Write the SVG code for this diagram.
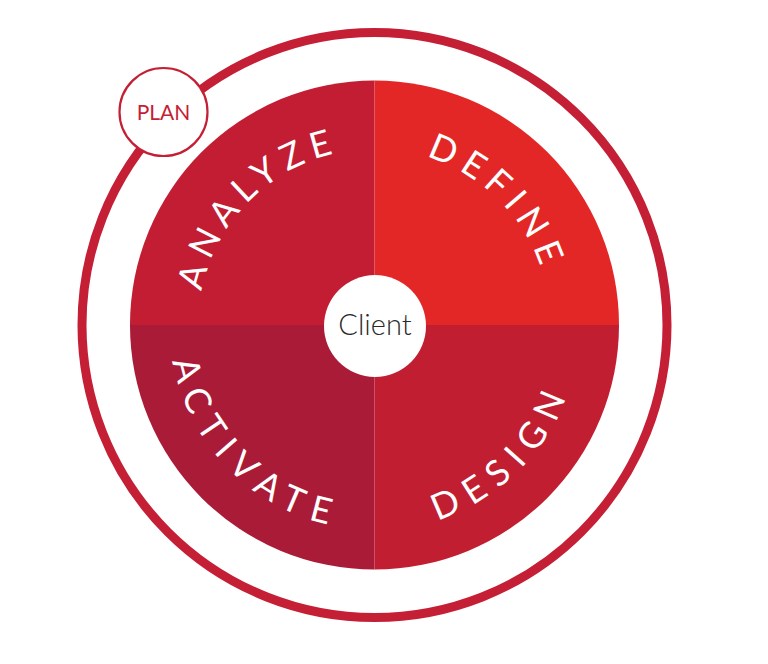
<svg xmlns="http://www.w3.org/2000/svg" width="768" height="664" viewBox="0 0 768 664">
<style>
.arc{font-family:Lato,"Open Sans","Liberation Sans",sans-serif;font-weight:400;font-size:36px;fill:#ffffff}
.top{letter-spacing:7.5px}
.bot{letter-spacing:10.5px}
.lbl{font-family:Lato,"Open Sans","Liberation Sans",sans-serif;text-anchor:middle}
</style>
<defs>
<path id="pA" d="M198.5,325 A176,176 0 0 1 374.5,149"/>
<path id="pD" d="M374.5,149 A176,176 0 0 1 550.5,325"/>
<path id="pAc" d="M169.5,325 A205,205 0 0 0 374.5,530"/>
<path id="pDs" d="M374.5,530 A205,205 0 0 0 579.5,325"/>
</defs>
<rect width="768" height="664" fill="#ffffff"/>
<g id="ring">
<circle cx="374.5" cy="325" r="292.5" fill="none" stroke="#c41f35" stroke-width="9"/>
</g>
<g id="analyze">
<path d="M374.5,325 L130,325 A244.5,244.5 0 0 1 374.5,80.5 Z" fill="#c21d33"/>
<text class="arc top"><textPath href="#pA" startOffset="50%" text-anchor="middle">ANALYZE</textPath></text>
</g>
<g id="define">
<path d="M374.5,325 L374.5,80.5 A244.5,244.5 0 0 1 619,325 Z" fill="#e32726"/>
<text class="arc top"><textPath href="#pD" startOffset="50%" text-anchor="middle">DEFINE</textPath></text>
</g>
<g id="design">
<path d="M374.5,325 L619,325 A244.5,244.5 0 0 1 374.5,569.5 Z" fill="#c21e32"/>
<text class="arc bot"><textPath href="#pDs" startOffset="50%" text-anchor="middle">DESIGN</textPath></text>
</g>
<g id="activate">
<path d="M374.5,325 L374.5,569.5 A244.5,244.5 0 0 1 130,325 Z" fill="#aa1b37"/>
<text class="arc bot"><textPath href="#pAc" startOffset="50%" text-anchor="middle">ACTIVATE</textPath></text>
</g>
<g id="client">
<circle cx="375" cy="326" r="51" fill="#ffffff"/>
<text class="lbl" x="375" y="335" font-size="29" font-weight="300" fill="#2a2a2a">Client</text>
</g>
<g id="plan">
<circle cx="163.5" cy="112" r="44" fill="#ffffff" stroke="#c41f35" stroke-width="2.2"/>
<text class="lbl" x="163.5" y="119.5" font-size="21" fill="#c41f35">PLAN</text>
</g>
</svg>
